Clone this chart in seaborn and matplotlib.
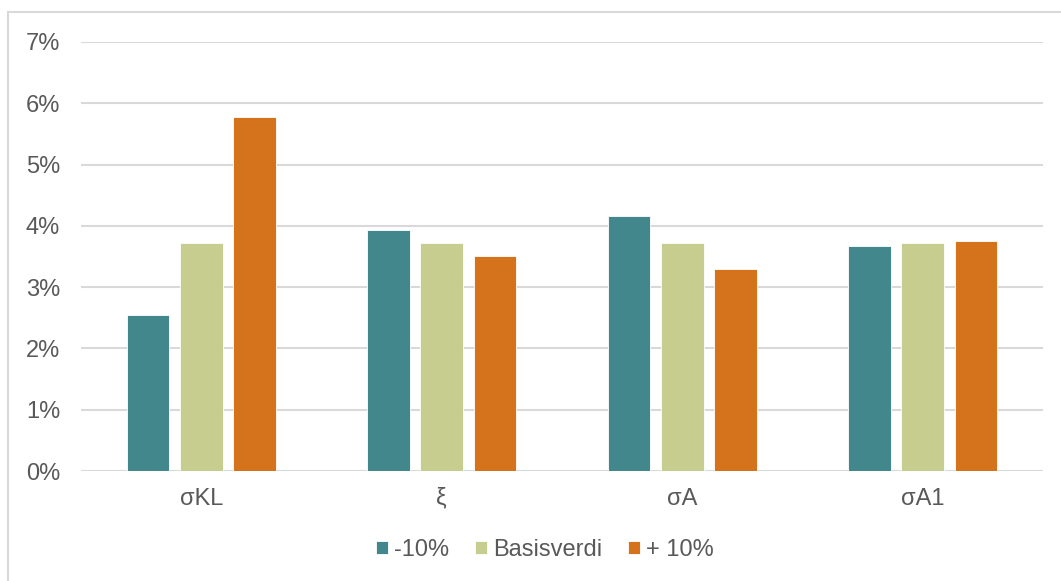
import seaborn as sns
import pandas as pd
import matplotlib.pyplot as plt
from matplotlib.ticker import PercentFormatter
from matplotlib.patches import Rectangle

# parameters and the three scenarios
categories = ["σKL", "ξ", "σA", "σA1"]
series = ["-10%", "Basisverdi", "+ 10%"]
minus10 = [0.0254, 0.0394, 0.0416, 0.0367]
basis = [0.0372, 0.0372, 0.0372, 0.0372]
plus10 = [0.0577, 0.0351, 0.0330, 0.0375]
colors = ["#41878B", "#C7CD8F", "#D4731C"]

df = pd.DataFrame({
    "param": categories * 3,
    "scenario": [series[0]] * 4 + [series[1]] * 4 + [series[2]] * 4,
    "value": minus10 + basis + plus10,
})

sns.set_style("white")
plt.rcParams["font.family"] = ["Liberation Sans", "DejaVu Sans"]
grey = "#595959"

fig = plt.figure(figsize=(10.61, 5.81), dpi=100)
ax = fig.add_axes([81 / 1061, 1 - 471 / 581, 962 / 1061, 429 / 581])

sns.barplot(data=df, x="param", y="value", hue="scenario", palette=colors,
            width=0.665, gap=0.2, edgecolor="white", linewidth=0.6,
            saturation=1, ax=ax)

ax.set_ylim(0, 0.07)
ax.set_yticks([i / 100 for i in range(8)])
ax.yaxis.set_major_formatter(PercentFormatter(1, decimals=0))
ax.set_xlim(-0.5, 3.5)
ax.grid(axis="y", color="#D9D9D9", linewidth=1.5)
ax.set_axisbelow(True)
sns.despine(ax=ax, left=True, bottom=True, top=True, right=True)
ax.tick_params(axis="both", length=0, labelsize=17, labelcolor=grey)
ax.tick_params(axis="y", pad=15)
ax.tick_params(axis="x", pad=12)
ax.set_xlabel("")
ax.set_ylabel("")

handles, labels = ax.get_legend_handles_labels()
ax.legend_.remove()
fig.legend(handles, labels, loc="center", bbox_to_anchor=(545 / 1061, 1 - 550 / 581),
           ncol=3, frameon=False, fontsize=17, labelcolor=grey,
           handlelength=0.5, handleheight=0.5, handletextpad=0.25,
           columnspacing=1.1)

# outer chart border (only left and top visible in the crop)
fig.patches.append(Rectangle((8 / 1061, -0.1), 1.2, 1.1 - 12 / 581,
                             transform=fig.transFigure, fill=False,
                             edgecolor="#D9D9D9", linewidth=1.5))

fig.savefig("out.png", dpi=100)
